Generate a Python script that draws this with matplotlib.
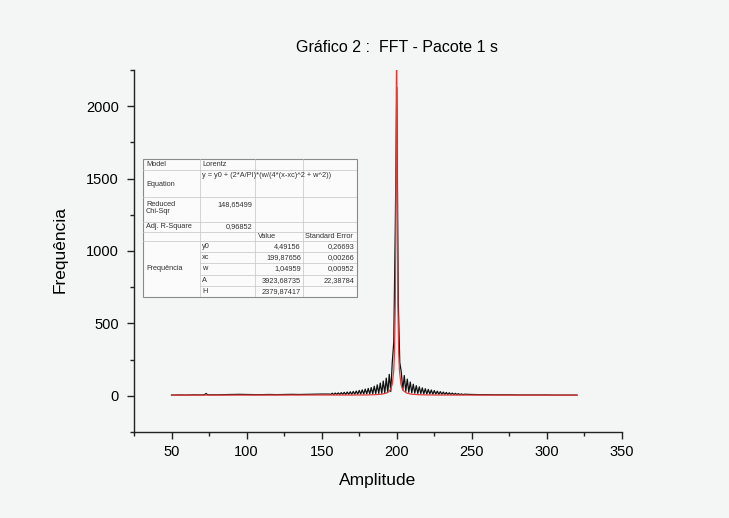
import matplotlib
matplotlib.use('Agg')
import matplotlib.pyplot as plt
from matplotlib.ticker import MultipleLocator

plt.rcParams['font.family'] = ['Liberation Sans', 'DejaVu Sans']

# --- dados ---
# espectro medido (linha preta)
freq_x = [50, 55, 60, 65, 70, 72, 73, 74, 75, 80, 85, 90, 95, 100, 105, 110, 115,
          120, 125, 130, 135, 140, 145, 150, 155,
          156, 157, 158, 159, 160, 161, 162, 163, 164, 165, 166, 167, 168, 169,
          170, 171, 172, 173, 174, 175, 176, 177, 178, 179, 180, 181, 182, 183,
          184, 185, 186, 187, 188, 189, 190, 191, 192, 193, 194, 195, 196, 197,
          198, 199, 200, 201, 202, 203, 204, 205, 206, 207, 208, 209, 210, 211,
          212, 213, 214, 215, 216, 217, 218, 219, 220, 221, 222, 223, 224, 225,
          226, 227, 228, 229, 230, 231, 232, 233, 234, 235, 236, 237, 238, 239,
          240, 241, 242, 243, 244, 245,
          250, 255, 260, 265, 270, 275, 280, 285, 290, 295, 300, 305, 310, 315, 320]
freq_y = [5, 6, 5, 7, 6, 8, 16, 8, 7, 7, 8, 9, 10, 9, 8, 8, 9,
          8, 9, 10, 9, 10, 11, 12, 12,
          9, 18, 8, 19, 9, 20, 9, 22, 10, 24, 9, 26, 10, 28,
          10, 30, 11, 33, 11, 37, 12, 41, 12, 46, 13, 51, 13, 57,
          14, 66, 15, 76, 16, 88, 17, 102, 19, 122, 22, 148, 30, 230,
          370, 1150, 2130, 650, 230, 165, 40, 140, 30, 115, 24, 95, 20, 80,
          18, 70, 16, 62, 15, 55, 13, 49, 12, 44, 12, 40, 11, 36,
          11, 32, 10, 29, 10, 26, 9, 23, 9, 21, 9, 19, 8, 17,
          8, 15, 8, 13, 8, 11,
          9, 8, 8, 7, 7, 7, 6, 6, 6, 6, 6, 5, 5, 5, 5]

# ajuste Lorentz (linha vermelha)
fit_x = [50, 100, 150, 170, 180, 185, 190, 193, 195, 196, 197, 198, 198.5, 199,
         199.3, 199.5, 199.7, 199.88, 200.06, 200.26, 200.46, 200.76, 201.26,
         201.76, 202.76, 203.76, 204.76, 206.76, 209.76, 214.76, 219.76, 229.76,
         250, 280, 320]
fit_y = [4.5, 4.8, 5.5, 5.2, 6.1, 7.4, 11.2, 18.3, 31.9, 47.5, 81, 176, 305, 629,
         1076, 1565, 2136, 2384, 2136, 1565, 1076, 629, 305,
         176, 81, 47.5, 31.9, 18.3, 11.2, 7.4, 6.1, 5.2,
         4.8, 4.6, 4.5]

# tabela de resultados
tab_info = [('Model', 'Lorentz'),
            ('Equation', 'y = y0 + (2*A/PI)*(w/(4*(x-xc)^2 + w^2))'),
            ('Reduced\nChi-Sqr', '148,65499'),
            ('Adj. R-Square', '0,96852')]
par_names = ['y0', 'xc', 'w', 'A', 'H']
par_values = ['4,49156', '199,87656', '1,04959', '3923,68735', '2379,87417']
par_errors = ['0,26693', '0,00266', '0,00952', '22,38784', '']

bg = '#f4f6f6'
fig = plt.figure(figsize=(7.29, 5.18), dpi=100, facecolor=bg)
ax = fig.add_axes([134/729, 1-432/518, (622-134)/729, (432-70)/518], facecolor=bg)

ax.plot(freq_x, freq_y, color='#111111', lw=0.9)
ax.plot(fit_x, fit_y, color='#e53a3a', lw=0.9)

ax.set_xlim(25, 350)
ax.set_ylim(-250, 2250)
ax.xaxis.set_major_locator(MultipleLocator(50))
ax.xaxis.set_minor_locator(MultipleLocator(25))
ax.yaxis.set_major_locator(MultipleLocator(500))
ax.yaxis.set_minor_locator(MultipleLocator(250))
for s in ['top', 'right']:
    ax.spines[s].set_visible(False)
for s in ['left', 'bottom']:
    ax.spines[s].set_color('#222222')
    ax.spines[s].set_linewidth(1.0)
ax.tick_params(which='major', direction='out', length=5, width=1, labelsize=10.5, color='#222222')
ax.tick_params(which='minor', direction='out', length=3, width=1, color='#222222')
ax.tick_params(axis='y', pad=6)
ax.tick_params(axis='x', pad=4)

fig.text(397/729, 1-48/518, 'Gráfico 2 :  FFT - Pacote 1 s', ha='center', va='center', fontsize=11.5)
fig.text(60/729, 1-250/518, 'Frequência', rotation=90, ha='center', va='center', fontsize=12.5)
fig.text(378/729, 1-480/518, 'Amplitude', ha='center', va='center', fontsize=12.5)

# --- tabela (coordenadas em pixels) ---
tx = fig.add_axes([143/729, 1-297/518, (357-143)/729, (297-159)/518])
tx.set_xlim(143, 357)
tx.set_ylim(297, 159)
tx.axis('off')
tx.add_patch(plt.Rectangle((143, 159), 214, 138, facecolor='#fbfbfb', edgecolor='#8a8a8a',
                           lw=0.8, clip_on=False))
cols = [143, 200, 255, 303, 357]
rows = [159, 170, 197, 222, 232, 241]
prow = [241 + 11.2 * i for i in range(6)]
lc = '#c4c4c4'
for y in rows[1:] + prow[1:-1]:
    x0 = 200 if y in prow[1:-1] else 143
    tx.plot([x0, 357], [y, y], color=lc, lw=0.5)
for x in cols[1:-1]:
    tx.plot([x, x], [159, 297], color=lc, lw=0.5)

fs = 5.3
tc = '#333333'
tx.text(146, 165, tab_info[0][0], fontsize=fs, va='center', color=tc)
tx.text(202, 165, tab_info[0][1], fontsize=fs, va='center', color=tc)
tx.text(146, 185, tab_info[1][0], fontsize=fs, va='center', color=tc)
tx.text(202, 175.5, tab_info[1][1], fontsize=fs, va='center', color=tc)
tx.text(146, 208, tab_info[2][0], fontsize=fs, va='center', color=tc, linespacing=1.1)
tx.text(252, 205, tab_info[2][1], fontsize=fs, va='center', ha='right', color=tc)
tx.text(146, 227, tab_info[3][0], fontsize=fs, va='center', color=tc)
tx.text(252, 227, tab_info[3][1], fontsize=fs, va='center', ha='right', color=tc)
tx.text(258, 236.5, 'Value', fontsize=fs, va='center', color=tc)
tx.text(305, 236.5, 'Standard Error', fontsize=fs, va='center', color=tc)
tx.text(146, 269, 'Frequência', fontsize=fs, va='center', color=tc)
for i in range(5):
    yc = prow[i] + 5.6
    tx.text(202, yc, par_names[i], fontsize=fs, va='center', color=tc)
    tx.text(301, yc, par_values[i], fontsize=fs, va='center', ha='right', color=tc)
    tx.text(354, yc, par_errors[i], fontsize=fs, va='center', ha='right', color=tc)

fig.savefig('out.png', dpi=100, facecolor=bg)
